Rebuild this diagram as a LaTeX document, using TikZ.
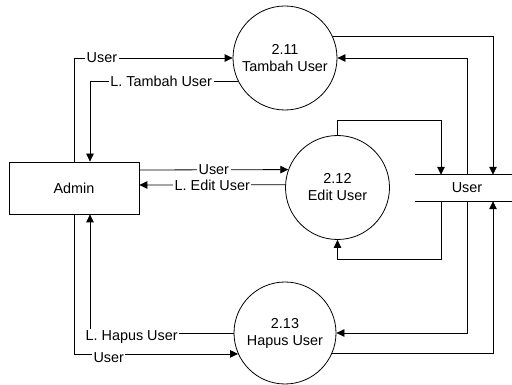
\documentclass[tikz,border=0pt]{standalone}
\usepackage{fontspec}
\setmainfont{Liberation Sans}
\usetikzlibrary{arrows.meta}
\begin{document}
\begin{tikzpicture}[x=1pt,y=-1pt,
  every node/.style={font=\fontsize{14.4pt}{17pt}\selectfont},
  proc/.style={circle,draw,line width=0.8pt,minimum size=104pt,inner sep=0pt,align=center},
  ent/.style={rectangle,draw,line width=0.8pt,minimum width=130pt,minimum height=52pt,inner sep=0pt},
  storebox/.style={rectangle,minimum width=104pt,minimum height=26pt,inner sep=0pt},
  flow/.style={line width=0.8pt,-{Triangle[length=8pt,width=7.5pt]}},
  lbl/.style={fill=white,inner sep=1.5pt}]
\useasboundingbox (0,0) rectangle (512,385);
\coordinate (edge) at (512,0);
\node[ent] (admin) at (74,188) {Admin};
\node[proc] (c11) at (285,58) {2.11\\Tambah User};
\node[proc] (c12) at (337.5,187.5) {2.12\\Edit User};
\node[proc,minimum size=102pt] (c13) at (285,333) {2.13\\Hapus User};
\node[storebox] (store) at (467,188) {User};
\draw[line width=0.8pt] (store.north west) -- (store.north west -| edge);
\draw[line width=0.8pt] (store.south west) -- (store.south west -| edge);
% Admin <-> 2.11
\draw[flow] (admin.north) |- node[lbl,pos=0.588]{User} (c11.west);
\draw[flow] (c11.207) -| node[lbl,pos=0.26]{L. Tambah User} ([xshift=16pt]admin.north);
% Admin <-> 2.12
\draw[flow] ([yshift=18pt]admin.east) -- node[lbl]{User} (c12.160);
\draw[flow] (c12.177) -- node[lbl]{L. Edit User} ([yshift=3pt]admin.east);
% Admin <-> 2.13
\draw[flow] (c13.west) -| node[lbl,pos=0.355,yshift=-4pt]{L. Hapus User} ([xshift=16pt]admin.south);
\draw[flow] (admin.south) |- node[lbl,pos=0.606,yshift=-4pt]{User} (c13.204);
% store <-> 2.11
\draw[flow] (c11.24) -| ([xshift=26pt]store.north);
\draw[flow] (store.north) |- (c11.east);
% store <-> 2.12
\draw[flow] (c12.north) -- ++(0,-14.5) -| ([xshift=-26pt]store.north);
\draw[flow] ([xshift=-26pt]store.south) -- ++(0,58) -| (c12.south);
% store <-> 2.13
\draw[flow] (store.south) |- (c13.east);
\draw[flow] (c13.-23) -| ([xshift=26pt]store.south);
\end{tikzpicture}
\end{document}
